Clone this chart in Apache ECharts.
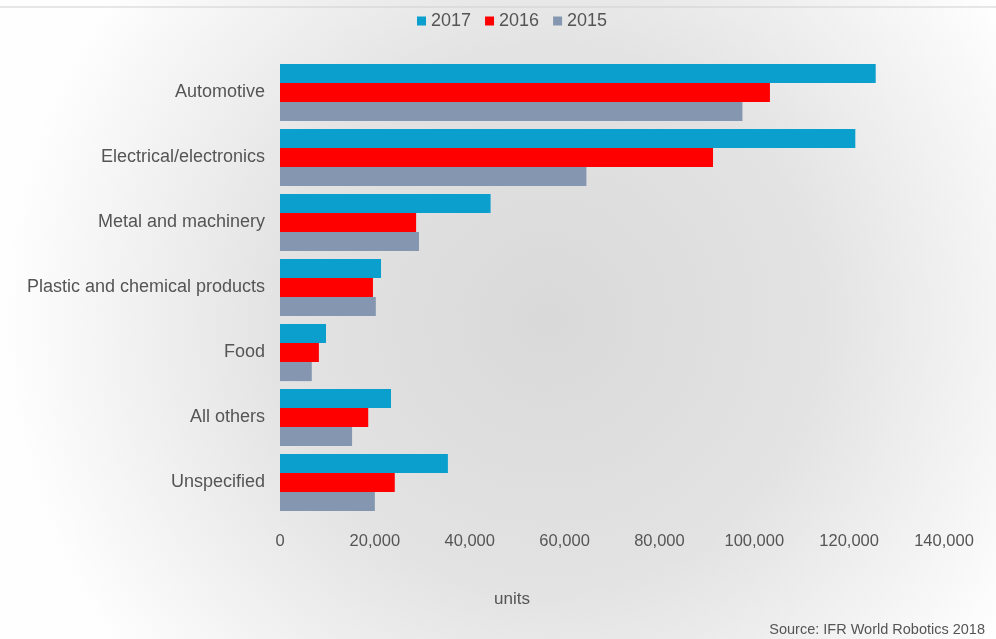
<!DOCTYPE html>
<html>
<head>
<meta charset="utf-8">
<script src="https://cdn.jsdelivr.net/npm/echarts@6/dist/echarts.min.js"></script>
<style>
  html, body { margin: 0; padding: 0; background: #fff; }
  #chart { width: 996px; height: 639px; }
</style>
</head>
<body>
<div id="chart"></div>
<script>
const industries = [
  'Automotive',
  'Electrical/electronics',
  'Metal and machinery',
  'Plastic and chemical products',
  'Food',
  'All others',
  'Unspecified',
];
const years = ['2017', '2016', '2015'];
const units2017 = [125600, 121300, 44400, 21300, 9700, 23400, 35400];
const units2016 = [103300, 91300, 28700, 19600, 8200, 18600, 24200];
const units2015 = [97500, 64600, 29300, 20200, 6700, 15200, 20000];
const xTicks = [0, 20000, 40000, 60000, 80000, 100000, 120000, 140000];

const colors = ['#0a9fcd', '#ff0000', '#8496b0'];
const font = 'Liberation Sans, Arial, sans-serif';

const chart = echarts.init(document.getElementById('chart'));

const makeSeries = (name, data, idx) => ({
  name,
  type: 'bar',
  data,
  barGap: '0%',
  barCategoryGap: '12%',
  itemStyle: { color: colors[idx] },
});

chart.setOption({
  animation: false,
  backgroundColor: {
    type: 'radial',
    x: 0.55,
    y: 0.5,
    r: 0.85,
    colorStops: [
      { offset: 0, color: '#d9d9d9' },
      { offset: 0.5, color: '#e3e3e3' },
      { offset: 1, color: '#fefefe' },
    ],
  },
  textStyle: { fontFamily: font },
  legend: {
    top: 7,
    left: 412,
    itemWidth: 9,
    itemHeight: 9,
    itemGap: 14,
    icon: 'rect',
    textStyle: { fontSize: 18, color: '#555', fontFamily: font },
    data: years,
  },
  grid: {
    left: 280,
    right: 52,
    top: 60,
    bottom: 124,
    containLabel: false,
  },
  xAxis: {
    type: 'value',
    min: xTicks[0],
    max: xTicks[xTicks.length - 1],
    interval: xTicks[1] - xTicks[0],
    axisLine: { show: false },
    axisTick: { show: false },
    splitLine: { show: false },
    axisLabel: {
      color: '#555',
      fontSize: 16.5,
      margin: 18,
      formatter: (v) => v.toLocaleString('en-US'),
    },
    name: 'units',
    nameLocation: 'middle',
    nameGap: 76,
    nameTextStyle: { color: '#555', fontSize: 17, padding: [0, 0, 0, -200] },
  },
  yAxis: {
    type: 'category',
    inverse: true,
    data: industries,
    axisLine: { show: false },
    axisTick: { show: false },
    axisLabel: { color: '#555', fontSize: 18, margin: 15, padding: [4, 0, 0, 0] },
  },
  graphic: [
    {
      type: 'line',
      shape: { x1: 0, y1: 7, x2: 996, y2: 7 },
      style: { stroke: '#d0d0d0', lineWidth: 1 },
    },
    {
      type: 'text',
      right: 11,
      bottom: 2,
      style: {
        text: 'Source: IFR World Robotics 2018',
        fill: '#555',
        fontSize: 14.5,
        fontFamily: font,
      },
    },
  ],
  series: [
    makeSeries(years[0], units2017, 0),
    makeSeries(years[1], units2016, 1),
    makeSeries(years[2], units2015, 2),
  ],
});
</script>
</body>
</html>
